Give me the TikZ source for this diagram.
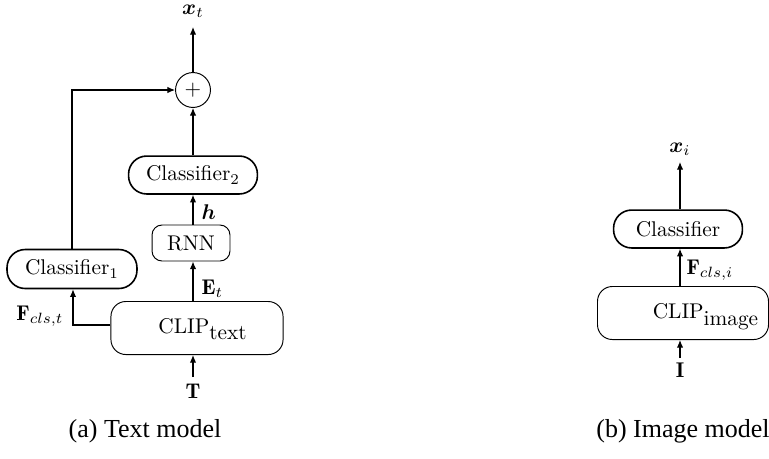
\documentclass[tikz,border=0pt]{standalone}
\usepackage{fontspec}
\usepackage{amsmath}
\usepackage{bm}
\usetikzlibrary{arrows.meta,calc}
\newfontfamily\capfont{Liberation Serif}
\tikzset{
  clsbox/.style={draw, line width=0.75pt, rounded corners=8.5pt, minimum width=60.5pt, minimum height=17.8pt, inner sep=0pt},
  rnnbox/.style={draw, line width=0.45pt, rounded corners=4.7pt, minimum width=36.6pt, minimum height=16.9pt, inner sep=0pt},
  clipbox/.style={draw, line width=0.45pt, rounded corners=7pt, minimum width=80.8pt, minimum height=24.9pt, inner sep=0pt},
  plusnode/.style={draw, circle, line width=0.45pt, minimum size=16.4pt, inner sep=0pt},
  conn/.style={line width=0.5pt, -{Latex[length=3.6pt,width=3pt]}},
  lbl/.style={inner sep=1pt},
  captext/.style={font=\capfont\fontsize{12.2}{14}\selectfont}
}
\begin{document}
\begin{tikzpicture}[x=0.4695pt, y=-0.4695pt]
\useasboundingbox (0,0) rectangle (769,458);
% ---- (a) text model
\node[lbl] (xt) at (193,11) {$\bm{x}_t$};
\node[plusnode] (plus) at (193,90) {$+$};
\node[clsbox] (c2) at (193,175) {Classifier$_2$};
\node[rnnbox] (rnn) at (191,243) {RNN};
\node[clsbox, minimum width=61pt, minimum height=18.3pt] (c1) at (72,269) {Classifier$_1$};
\node[clipbox] (clipt) at (197,328) {};
\node[lbl] (cliptxt) at (203,329) {CLIP$_{\hbox{text}}$};
\node[lbl] (T) at (193,391) {$\mathbf{T}$};
\node[lbl, anchor=west] (h) at (199,212) {$\bm{h}$};
\node[lbl, anchor=west] (Et) at (199,289) {$\mathbf{E}_t$};
\node[lbl] (Fct) at (40,316) {$\mathbf{F}_{cls,t}$};
\coordinate (tin) at (193,377);
\coordinate (xin) at (193,27);

\draw[conn] (tin) -- (clipt.south -| plus);
\draw[conn] (clipt.north -| plus) -- (rnn.south -| plus);
\draw[conn] (rnn.north -| plus) -- (c2.south -| plus);
\draw[conn] (c2.north -| plus) -- (plus.south);
\draw[conn] (plus.north) -- (xin);
\draw[conn] ($(clipt.west)+(0,-3)$) -| ($(c1.south)+(1,0)$);
\draw[conn] (c1.north) |- (plus.west);

% ---- (b) image model
\node[lbl] (xi) at (680,149) {$\bm{x}_i$};
\node[clsbox] (ci) at (678,229) {Classifier};
\node[clipbox, minimum width=80.3pt] (clipi) at (683,313) {};
\node[lbl] (clipitxt) at (706,317) {CLIP$_{\hbox{image}}$};
\node[lbl, anchor=west] (Fci) at (684,270) {$\mathbf{F}_{cls,i}$};
\node[lbl] (I) at (680,370) {$\mathbf{I}$};
\coordinate (iin) at (680,358);
\coordinate (xiin) at (680,162);

\draw[conn] (iin) -- (iin |- clipi.south);
\draw[conn] (iin |- clipi.north) -- (iin |- ci.south);
\draw[conn] (iin |- ci.north) -- (xiin);

% ---- captions
\node[captext] (capa) at (145,431) {(a) Text model};
\node[captext] (capb) at (683,431) {(b) Image model};
\end{tikzpicture}
\end{document}
